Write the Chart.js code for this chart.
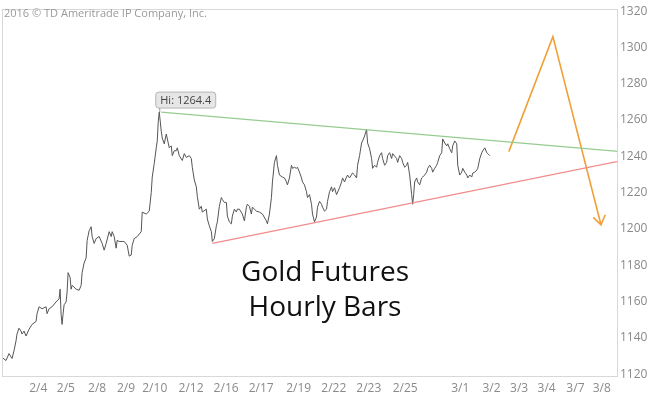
<!DOCTYPE html>
<html><head><meta charset="utf-8">
<script src="https://cdn.jsdelivr.net/npm/chart.js@4/dist/chart.umd.min.js"></script>
<style>html,body{margin:0;padding:0;background:#fff}#wrap{width:650px;height:395px;position:relative}</style>
</head><body><div id="wrap"><canvas id="c" width="650" height="395"></canvas></div>
<script>
// hourly closes: [bar index, price]
const hourlyCloses = [[0,1129.2],[3.2,1127.5],[5.6,1131.3],[8,1128.6],[9.6,1132.9],[11.2,1138.3],[12,1142.1],[13.6,1145.3],[15.2,1143.7],[16,1142.1],[17.6,1143.7],[19.2,1141.0],[21.6,1144.7],[24,1147.4],[27.2,1149.0],[28,1153.3],[29.6,1157.1],[32,1156.0],[35.2,1157.1],[36,1153.3],[37.6,1156.0],[40,1157.1],[43.2,1159.8],[45.6,1161.4],[46.4,1166.8],[47.2,1152.8],[48,1147.4],[48.8,1153.3],[49.6,1158.2],[51.2,1159.8],[52,1165.2],[52.8,1175.9],[54.4,1173.2],[55.2,1166.8],[56,1168.9],[59.2,1166.8],[61.6,1166.2],[63.2,1168.9],[64,1175.9],[65.6,1181.3],[67.2,1184.0],[68,1193.7],[69.6,1199.0],[71.2,1201.2],[72,1195.8],[73.6,1192.0],[75.2,1194.7],[77.6,1195.8],[80,1192.0],[81.6,1188.3],[83.2,1192.0],[85.6,1198.5],[87.2,1195.8],[88,1198.5],[89.6,1195.8],[91.2,1189.4],[92,1193.7],[93.6,1193.1],[96,1193.1],[97.6,1193.1],[100,1191.0],[101.6,1185.0],[103.2,1185.6],[104,1191.0],[105.6,1194.7],[108,1195.8],[111.2,1198.5],[112,1209.3],[115.2,1208.2],[117.6,1209.8],[119.2,1220.0],[120,1228.6],[121.6,1236.1],[123.2,1244.7],[124,1248.5],[124.8,1259.2],[125.6,1264.4],[127.2,1253.9],[128,1250.1],[129.6,1246.9],[131.2,1252.3],[133.6,1244.7],[135.2,1245.8],[136,1240.4],[137.6,1243.1],[139.2,1243.1],[140,1244.7],[141.6,1240.4],[144,1237.7],[145.6,1241.5],[147.2,1239.4],[149.6,1240.4],[151.2,1238.8],[152,1234.0],[153.6,1227.0],[155.2,1223.2],[156,1217.9],[157.6,1210.9],[159.2,1212.5],[160,1209.3],[163.2,1210.9],[164,1205.5],[165.6,1201.7],[167.2,1198.5],[168,1193.1],[169.6,1194.7],[171.2,1201.7],[172,1203.9],[173.6,1212.5],[175.2,1217.3],[176,1216.2],[177.6,1214.6],[179.2,1214.6],[180,1207.1],[181.6,1203.9],[183.2,1202.8],[184,1207.1],[185.6,1210.9],[187.2,1209.3],[188,1210.9],[189.6,1210.9],[192,1208.2],[193.6,1204.4],[195.2,1212.0],[196,1213.6],[197.6,1212.5],[199.2,1208.2],[200,1212.0],[203.2,1209.8],[205.6,1209.3],[208,1208.2],[211.2,1204.4],[212,1202.8],[213.6,1208.2],[215.2,1217.3],[216,1225.9],[217.6,1236.7],[219.2,1240.4],[220,1235.1],[221.6,1229.7],[224,1228.6],[225.6,1228.1],[227.2,1225.9],[228,1224.3],[229.6,1228.1],[231.2,1235.1],[232,1233.4],[233.6,1234.0],[235.2,1233.4],[236,1234.0],[237.6,1231.3],[239.2,1228.1],[240,1225.9],[241.6,1224.3],[243.2,1220.5],[244,1217.3],[245.6,1218.9],[247.2,1213.6],[248,1208.2],[249.6,1203.9],[251.2,1206.6],[252,1212.0],[253.6,1215.2],[255.2,1213.6],[256,1212.0],[257.6,1209.8],[259.2,1210.9],[260,1215.2],[261.6,1220.5],[263.2,1223.2],[264,1220.5],[265.6,1222.7],[267.2,1218.9],[269.6,1222.7],[271.2,1225.9],[272,1228.1],[273.6,1225.9],[275.2,1228.6],[276,1229.7],[277.6,1228.1],[280,1230.8],[281.6,1229.7],[283.2,1228.1],[284,1235.1],[285.6,1240.4],[287.2,1247.4],[288,1248.5],[289.6,1251.2],[291.2,1254.9],[292,1247.4],[293.6,1244.2],[295.2,1238.8],[296,1233.4],[297.6,1235.1],[299.2,1234.0],[300,1236.7],[301.6,1240.4],[303.2,1242.0],[304,1238.8],[305.6,1235.1],[307.2,1236.7],[308,1240.4],[309.6,1242.0],[311.2,1238.8],[312,1241.5],[315.2,1238.8],[316,1236.7],[317.6,1240.4],[319.2,1238.8],[320,1236.7],[321.6,1234.0],[323.2,1235.1],[324,1236.7],[325.6,1229.7],[327.2,1218.9],[328,1213.6],[328.8,1218.9],[329.6,1225.9],[331.2,1228.1],[332,1225.9],[333.6,1224.3],[335.2,1228.1],[336,1228.6],[337.6,1229.7],[339.2,1231.3],[340,1233.4],[341.6,1235.1],[343.2,1233.4],[344,1231.3],[345.6,1233.4],[347.2,1235.1],[348,1236.7],[349.6,1240.4],[351.2,1242.0],[352,1249.6],[353.6,1247.4],[355.2,1245.8],[356,1246.9],[357.6,1244.2],[359.2,1242.0],[360,1245.8],[361.6,1248.5],[363.2,1246.9],[364,1235.1],[365.6,1229.7],[367.2,1231.3],[368,1233.4],[369.6,1231.3],[371.2,1229.7],[372,1228.1],[373.6,1229.7],[375.2,1228.6],[376,1230.8],[377.6,1231.3],[379.2,1232.4],[380,1233.4],[381.6,1238.8],[383.2,1242.0],[384,1243.1],[385.6,1244.7],[387.2,1242.0],[388,1241.5],[389.6,1240.4]];

const resistanceLine = [[127.2,1264.4],[492,1242.7]];
const supportLine = [[168,1192.0],[492,1237.2]];
const projectionPath = [[404.8,1242.6],[440,1306.0],[478.4,1202.3]];
const arrowHead = [[472.2,1206.4],[478.4,1202.3],[481.8,1207.8]];

const xTickBars = [29,51,76,99,122,151,179,207,237,265,293,322,366,391,413,435,458,479];
const xTickLabels = ['2/4','2/5','2/8','2/9','2/10','2/12','2/16','2/17','2/19','2/22','2/23','2/25','3/1','3/2','3/3','3/4','3/7','3/8'];
const yTickValues = [1120,1140,1160,1180,1200,1220,1240,1260,1280,1300,1320];

const copyrightText = '2016 © TD Ameritrade IP Company, Inc.';
const titleLines = ['Gold Futures','Hourly Bars'];

const toPts = a => a.map(p => ({x:p[0], y:p[1]}));
const FONT = '"Open Sans", "DejaVu Sans", sans-serif';

const overlay = {
  id:'overlay',
  afterDraw(chart){
    const ctx = chart.ctx, xs = chart.scales.x, ys = chart.scales.y, ca = chart.chartArea;
    ctx.save();
    ctx.strokeStyle = '#d8d8d8'; ctx.lineWidth = 1;
    ctx.strokeRect(Math.round(ca.left)+0.5, Math.round(ca.top)+0.5, Math.round(ca.right-ca.left)-1, Math.round(ca.bottom-ca.top)-1);
    ctx.fillStyle = '#9a9a9a'; ctx.font = '11px ' + FONT; ctx.textBaseline = 'middle'; ctx.textAlign = 'left';
    ctx.fillText(copyrightText, 4, 14);
    ctx.fillStyle = '#111'; ctx.font = '28px ' + FONT; ctx.textAlign = 'center';
    ctx.fillText(titleLines[0], 325, 273);
    ctx.fillText(titleLines[1], 325, 308);
    let hi = hourlyCloses[0];
    hourlyCloses.forEach(p => { if (p[1] > hi[1]) hi = p; });
    const px = xs.getPixelForValue(hi[0]), py = ys.getPixelForValue(hi[1]);
    const txt = 'Hi: ' + hi[1].toFixed(1);
    ctx.font = '11px ' + FONT;
    const w = ctx.measureText(txt).width + 9, h = 16;
    const bx = px - 3.5, by = py - 4 - h;
    ctx.fillStyle = '#e6e6e6'; ctx.strokeStyle = '#b5b5b5';
    ctx.beginPath(); ctx.roundRect(bx, by, w, h, 3); ctx.fill(); ctx.stroke();
    ctx.fillStyle = '#444'; ctx.textAlign = 'left'; ctx.textBaseline = 'middle';
    ctx.fillText(txt, bx + 4.5, by + h/2 + 0.5);
    ctx.strokeStyle = '#999'; ctx.beginPath(); ctx.moveTo(px+0.5, by+h); ctx.lineTo(px+0.5, py); ctx.stroke();
    ctx.restore();
  }
};

new Chart(document.getElementById('c'), {
  type:'line',
  data:{ datasets:[
    {data:toPts(resistanceLine), borderColor:'#96cc90', borderWidth:1.2, pointRadius:0},
    {data:toPts(supportLine), borderColor:'#f08c8c', borderWidth:1.2, pointRadius:0},
    {data:toPts(projectionPath), borderColor:'#f0a035', borderWidth:1.6, pointRadius:0},
    {data:toPts(arrowHead), borderColor:'#f0a035', borderWidth:1.6, pointRadius:0},
    {data:toPts(hourlyCloses), borderColor:'#555555', borderWidth:1, pointRadius:0, tension:0}
  ]},
  options:{
    responsive:false, animation:false, events:[],
    layout:{padding:{left:2, top:0, right:0, bottom:0}},
    plugins:{legend:{display:false}, tooltip:{enabled:false}},
    scales:{
      x:{type:'linear', min:0, max:492,
        grid:{display:false, drawTicks:false}, border:{display:false},
        afterBuildTicks: a => { a.ticks = xTickBars.map(v => ({value:v})); },
        afterFit: s => { s.height = 18; },
        ticks:{autoSkip:false, maxRotation:0, padding:4, color:'#8a8a8a', font:{size:12, family:FONT},
          callback:(v) => { const i = xTickBars.indexOf(v); return i >= 0 ? xTickLabels[i] : ''; }}
      },
      y:{type:'linear', position:'right', min:1118.4, max:1321.1,
        grid:{display:false, drawTicks:false}, border:{display:false},
        afterBuildTicks: a => { a.ticks = yTickValues.map(v => ({value:v})); },
        afterFit: s => { s.width = 32; },
        ticks:{padding:2, color:'#8a8a8a', font:{size:12, family:FONT}, callback:(v) => String(v)}
      }
    }
  },
  plugins:[overlay]
});
</script></body></html>
